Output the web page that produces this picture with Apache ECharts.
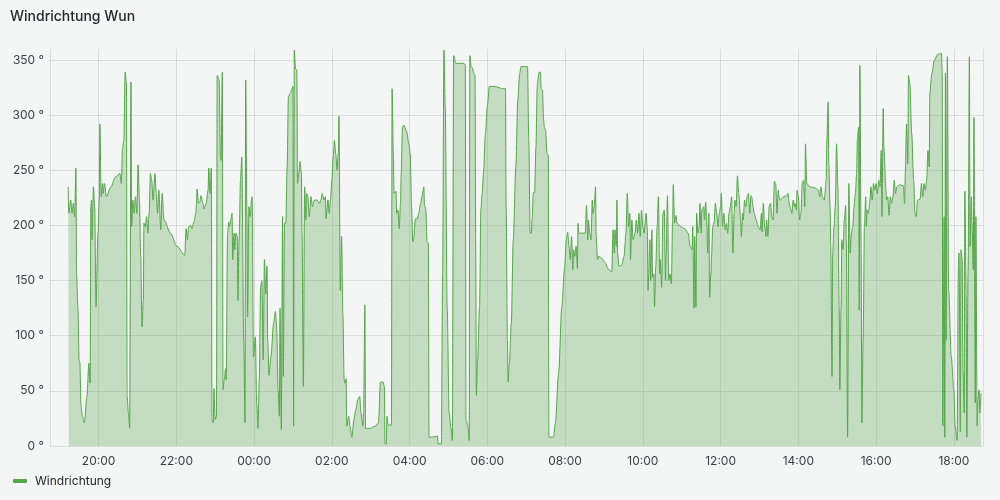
<!DOCTYPE html>
<html>
<head>
<meta charset="utf-8">
<script src="https://cdn.jsdelivr.net/npm/echarts@6/dist/echarts.min.js"></script>
<style>
html,body{margin:0;padding:0;background:#f4f5f5;}
#chart{width:1000px;height:500px;}
</style>
</head>
<body>
<div id="chart"></div>
<script>
// Minutes relative to 20:00 on the first day, and wind direction in degrees.
const t1 = [-47,-46,-43,-41,-39,-37,-35,-34,-32,-30,-29,-27,-25,-22,-18,-15,-13,-12,-11,-10,-8,-6,-4,-1,1,2,4,6,7,9,12,19,26,33,35,37,39,41,43,44,46,48,50,51,53,55,57,59,61,63,65,67,69,70,72,74,76,78,80,82,84,87,89,91,93,96,98,101,111,121];
const v1 = [235,211,223,211,220,208,252,156,126,78,76,36,27,21,45,75,57,217,223,187,235,217,126,193,223,292,226,238,229,238,226,235,244,247,238,271,277,339,329,45,30,16,330,199,223,211,226,211,255,223,172,108,132,202,199,208,193,211,247,241,223,247,229,211,232,196,229,205,193,181];

const t2 = [133,135,137,139,142,144,147,150,151,152,154,156,158,161,163,166,169,170,172,174,175,177,178,180,182,183,186,188,189,191,192,194,196,197,199,201,202,204,206,207,209,210,212,214,215,217,219,221,224,226,227,229,230,232,234,236,237,239,242,244,246,248,250,252,254,256,258,260,261,263,266,270,273,275,277,279,280,282,284,285,287,289,291,293,296,298,300,301,302];
const v2 = [173,197,187,199,200,197,203,211,220,233,220,221,227,220,215,220,232,252,229,252,24,21,52,24,27,336,332,262,259,339,51,60,70,60,193,203,199,205,211,169,193,178,193,190,132,190,241,262,96,21,332,208,117,217,208,223,226,81,99,39,16,60,144,150,78,169,138,163,96,64,81,111,122,105,51,27,125,15,208,63,202,202,253,317,320,323,326,18,359];

const t3 = [304,306,307,309,311,313,314,316,318,320,321,323,325,328,330,333,337,341,343,345,348,350,351,354,356,358,360,362,364,366,368,370,371,373,375,377,379,380,382,383,386,388,391,394,397,400,403,405,408,409,411,412,419,427,432,435,439,441,442,444,445,447,452,453,455,456,459,460,462,464,466,467,469,471,475,479];
const v3 = [342,341,238,247,258,247,193,54,235,205,229,226,208,226,217,223,223,220,223,229,223,226,206,223,211,224,241,262,277,265,250,265,299,141,190,120,60,57,61,18,27,18,8,24,33,42,45,30,18,30,128,16,16,18,21,58,58,54,2,2,27,19,19,324,262,229,231,211,214,197,220,247,289,291,286,274];

const t4 = [481,483,485,486,489,492,494,497,499,502,503,505,507,509,510,515,523,524,529,531,533,535,538,541,544,546,548,551,556,563,566,567,570,572,573,575,577,579,581,582,583,585,588,590,592,594,597,600,603,606,612,618,622,628,629,631,632,634,637,640,644,647,650,652];
const v4 = [265,217,185,187,206,206,211,220,226,235,218,215,185,184,8,8,9,2,2,156,359,308,126,30,16,5,354,347,347,347,346,24,18,5,354,344,343,338,336,187,46,78,126,214,229,247,283,308,326,326,326,325,324,324,217,96,58,75,111,187,253,314,338,344];

const t5 = [655,662,664,666,668,669,671,673,675,677,678,680,682,683,685,687,688,690,692,694,695,702,705,710,715,719,722,724,726,728,730,732,733,735,737,739,740,741,746,751,753,755,756,758,760,762,763,765,767,768,770,772,777,782,787,792,794,796,797,799,800,801,803,807,811,814,816,818,820,821,823,825,828,830,832,834];
const v5 = [344,344,277,193,193,205,230,230,271,326,326,339,339,324,323,295,289,286,265,264,8,8,21,66,126,160,187,194,181,169,190,160,178,172,181,161,202,193,193,193,218,187,205,193,187,223,211,217,235,190,169,172,170,166,160,158,196,175,196,181,223,175,163,164,172,193,229,199,211,169,205,187,193,205,193,211];

const t6 = [836,838,840,842,845,847,848,849,851,852,854,855,857,858,860,862,864,866,867,869,871,873,875,876,878,880,882,884,886,887,889,891,893,898,905,910,913,916,917,919,920,922,923,925,927,928,930,931,934,935,937,939,940,942,943,945,946,948,950,952,954,956,958,960,961,963,965,967,969,971,973,975,977,979,981,982,984,986,988,991,992,994,995,997,999,1001,1003,1005];
const v6 = [190,214,199,193,211,196,141,156,187,150,196,153,156,126,163,199,226,156,169,144,211,214,150,175,227,150,156,147,205,237,202,209,202,199,197,193,181,178,199,125,190,126,211,193,199,220,193,214,217,205,221,199,175,211,135,156,172,199,203,220,211,199,211,217,229,199,211,196,202,193,211,217,226,175,211,223,217,245,229,205,190,211,205,223,217,226,229,211];

const t7 = [1007,1008,1010,1012,1015,1018,1021,1023,1024,1026,1028,1030,1031,1033,1035,1037,1039,1041,1043,1045,1047,1049,1050,1052,1057,1062,1064,1066,1068,1070,1072,1074,1075,1077,1078,1080,1082,1084,1086,1088,1090,1091,1093,1098,1106,1111,1113,1115,1117,1120,1121,1123,1124,1126,1127,1129,1130,1132,1133,1135,1137,1139,1141,1143,1144,1146,1147,1149,1151,1153,1154,1156,1158,1160,1162,1164,1166,1168,1170,1171,1173,1174,1175,1177,1178,1180,1182,1184];
const v7 = [227,226,217,211,205,199,196,211,194,220,199,190,205,190,217,220,208,205,240,238,211,232,226,223,226,227,229,220,215,211,223,217,220,214,232,226,205,211,238,241,217,274,238,235,234,232,226,235,226,223,229,241,277,312,256,217,181,63,175,199,217,274,235,126,51,126,187,178,205,218,187,8,238,175,193,199,217,229,247,277,289,123,345,175,21,96,199,226];

const t8 = [1185,1186,1188,1190,1192,1194,1196,1198,1200,1202,1204,1206,1208,1209,1211,1212,1215,1216,1218,1220,1222,1224,1226,1228,1230,1232,1236,1242,1244,1245,1247,1249,1250,1252,1255,1258,1260,1262,1264,1268,1270,1272,1274,1276,1278,1280,1282,1283,1286,1290,1295,1301,1302,1303,1305,1306,1307,1308,1310,1312,1316,1320,1322,1325,1327,1328,1330,1331,1333,1334,1336,1337,1339,1340,1342,1344,1345,1347,1348,1350,1351,1353,1354,1356,1357,1359,1360,1362];
const v8 = [199,214,211,220,235,223,238,232,238,229,241,235,268,208,306,271,235,223,226,209,226,220,226,241,229,235,237,236,220,247,292,256,336,329,283,241,211,208,223,224,238,226,238,232,241,268,253,320,338,350,355,356,338,18,208,8,338,96,353,141,81,51,18,5,163,175,13,178,169,69,30,231,138,8,160,353,181,226,202,160,298,39,208,18,42,51,30,48];

const seriesName = 'Windrichtung';
const panelTitle = 'Windrichtung Wun';
const yTicks = [0, 50, 100, 150, 200, 250, 300, 350];

const base = Date.UTC(2024, 0, 15, 20, 0, 0);
const MIN = 60000;
const times = [].concat(t1, t2, t3, t4, t5, t6, t7, t8);
const vals = [].concat(v1, v2, v3, v4, v5, v6, v7, v8);
if (times.length !== vals.length) console.error('length mismatch', times.length, vals.length);
const data = times.map((m, i) => [base + m * MIN, vals[i]]);

const FONT = 'Inter, "Noto Sans", sans-serif';
const chart = echarts.init(document.getElementById('chart'), null, {renderer: 'canvas'});
chart.setOption({
  useUTC: true,
  animation: false,
  backgroundColor: '#f4f5f5',
  title: {
    text: panelTitle, left: 10, top: 10, padding: 0,
    textStyle: {fontFamily: FONT, fontSize: 14, fontWeight: 500, color: '#24292e'}
  },
  legend: {
    left: 13, top: 475, padding: 0, icon: 'roundRect', itemWidth: 14, itemHeight: 4, itemGap: 10,
    textStyle: {fontFamily: FONT, fontSize: 12, color: '#24292e', padding: [0, 0, 0, 3]},
    data: [seriesName]
  },
  grid: {left: 50, right: 17, top: 49, bottom: 54, containLabel: false},
  xAxis: {
    type: 'time',
    min: base - 75 * MIN, max: base + 1365 * MIN,
    splitNumber: 10,
    axisLine: {show: false}, axisTick: {show: false},
    axisLabel: {formatter: '{HH}:{mm}', fontFamily: FONT, fontSize: 12, color: '#3b4046', margin: 9,
      showMinLabel: false, showMaxLabel: false},
    splitLine: {show: true, lineStyle: {color: 'rgba(36,41,46,0.12)', width: 1}}
  },
  yAxis: {
    type: 'value', min: 0, max: 360, interval: 50,
    axisLine: {show: false}, axisTick: {show: false},
    axisLabel: {formatter: v => yTicks.includes(v) ? v + ' °' : '', fontFamily: FONT, fontSize: 12, color: '#3b4046', margin: 6, showMaxLabel: false},
    splitLine: {show: true, showMaxLine: false, lineStyle: {color: 'rgba(36,41,46,0.12)', width: 1}}
  },
  series: [{
    name: seriesName, type: 'line', data: data,
    showSymbol: false, smooth: 0.3, smoothMonotone: 'x',
    color: '#56A64B',
    lineStyle: {width: 1, color: '#56A64B'},
    areaStyle: {color: '#56A64B', opacity: 0.3}
  }]
});
</script>
</body>
</html>
